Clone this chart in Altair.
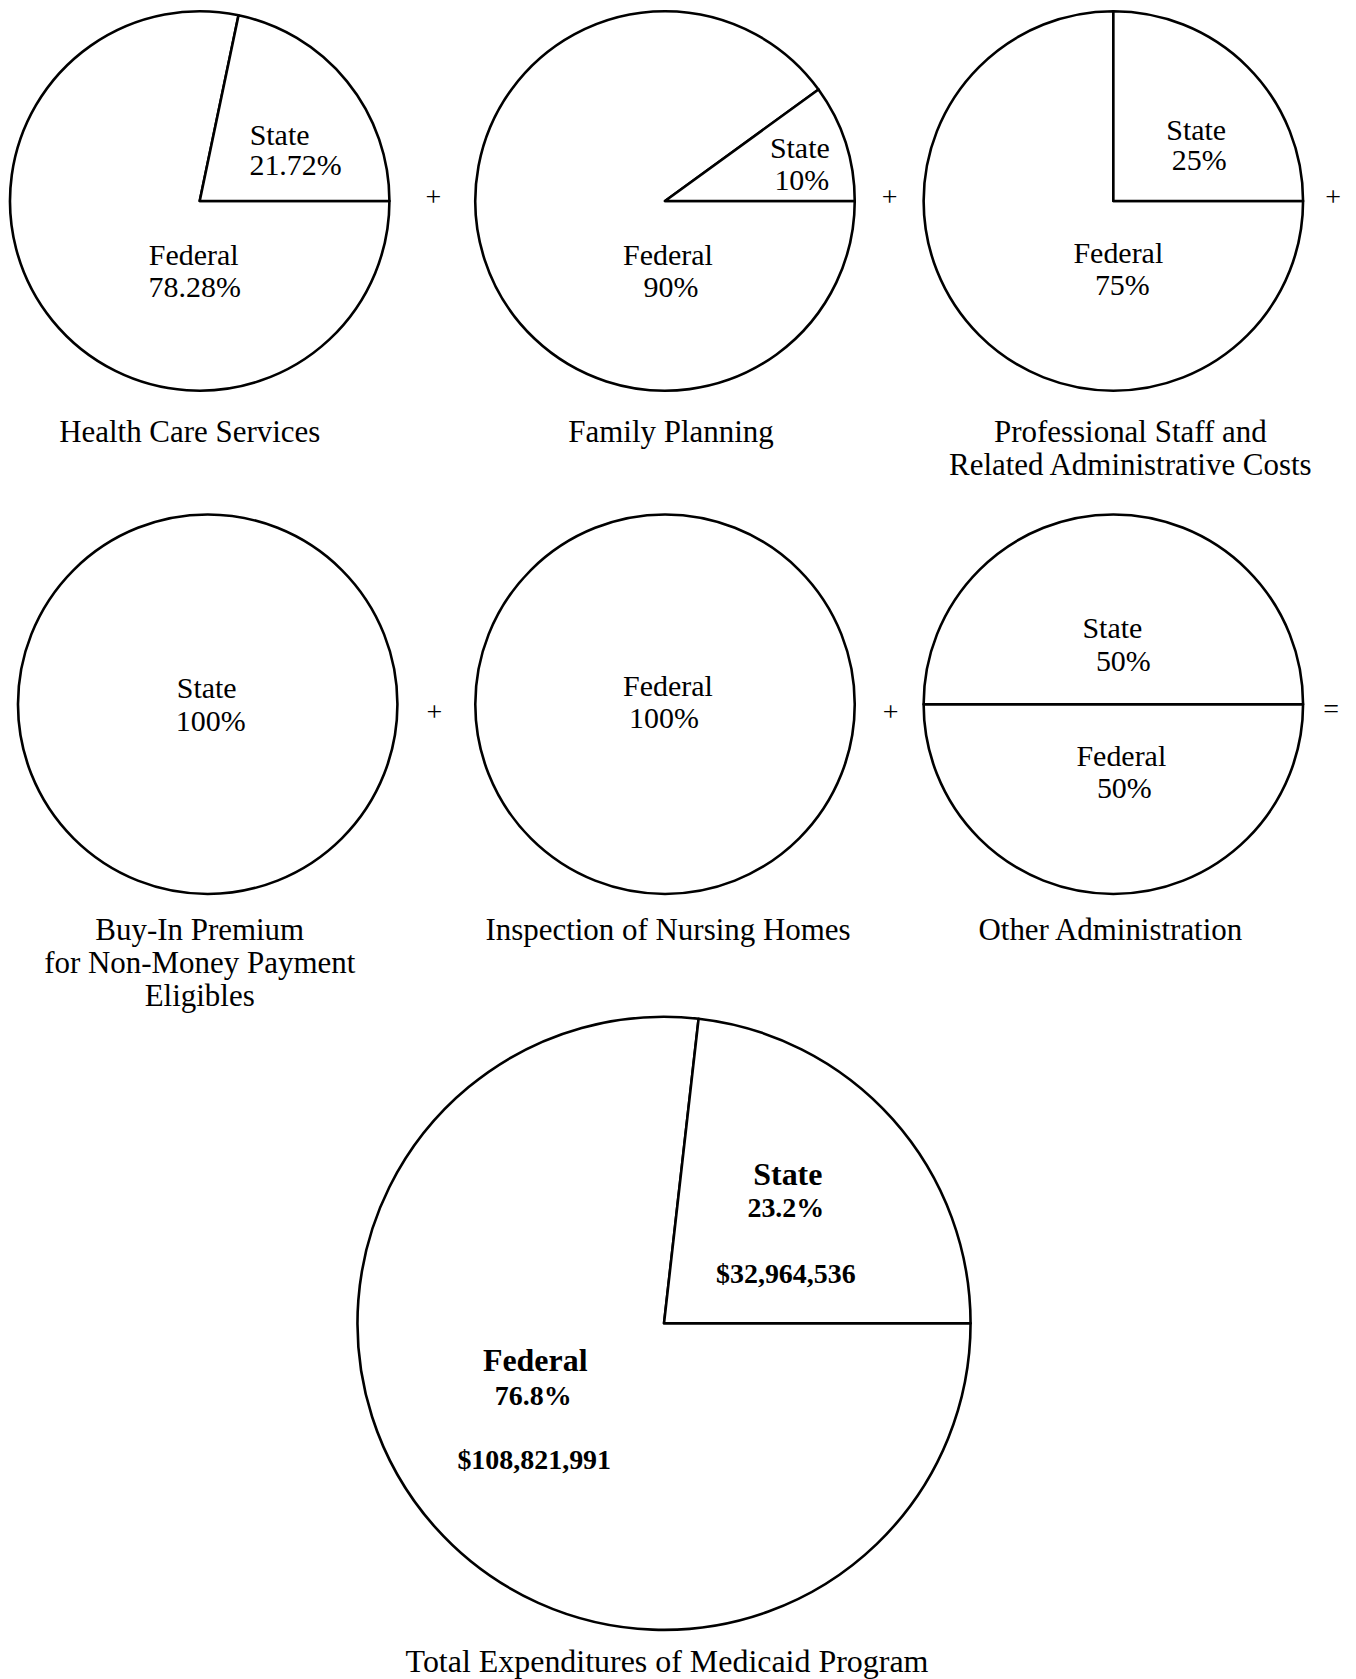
import math
import altair as alt
import pandas as pd

# ---------------- data ----------------
PIE_TITLES = [
    ["Health Care Services"],
    ["Family Planning"],
    ["Professional Staff and", "Related Administrative Costs"],
    ["Buy-In Premium", "for Non-Money Payment", "Eligibles"],
    ["Inspection of Nursing Homes"],
    ["Other Administration"],
    ["Total Expenditures of Medicaid Program"],
]
SOURCES = ["Federal", "State"]
FEDERAL_SHARE = [78.28, 90, 75, 0, 100, 50, 76.8]
STATE_SHARE = [21.72, 10, 25, 100, 0, 50, 23.2]
FEDERAL_LABEL = ["78.28%", "90%", "75%", "", "100%", "50%", "76.8%"]
STATE_LABEL = ["21.72%", "10%", "25%", "100%", "", "50%", "23.2%"]
FEDERAL_AMOUNT = ["", "", "", "", "", "", "$108,821,991"]
STATE_AMOUNT = ["", "", "", "", "", "", "$32,964,536"]
OPERATORS = ["+", "+", "+", "+", "+", "="]

# ---------------- layout (sizes / positions / styles) ----------------
R_SMALL = 190
R_BIG = 307
ROW_H = [380, 382, 600]
SPACING_1_2 = 31
SPACING_2_3 = 2
ROWS = [
    [("pie", 0, 380), ("op", 0, 88), ("pie", 1, 376), ("op", 1, 74), ("pie", 2, 374), ("op", 2, 48)],
    [("pie", 3, 396), ("op", 3, 58), ("pie", 4, 404), ("op", 4, 48), ("pie", 5, 398), ("op", 5, 36)],
    [("pie", 6, 1310)],
]
OP_DX = [0, 0, 9, 0, 0, 1]
OP_DY = [-3, -3, -3, 9, 9, 6]
TITLE_OFFSET = [26, 26, 26, 21, 21, 21, 16]
TITLE_DX = [-10, 6, 17, -8, 3, -3, 3]
TITLE_SIZE = [31, 31, 31, 31, 31, 31, 32]
# label line offsets from the pie centre: (dx, dy) for name, percentage, amount
LABEL_OFFSETS = [
    {"State": [(80, -65), (96, -35)], "Federal": [(-6, 55), (-5, 87)]},
    {"State": [(135, -52), (137, -20)], "Federal": [(3, 55), (6, 87)]},
    {"State": [(83, -70), (86, -40)], "Federal": [(5, 53), (9, 85)]},
    {"State": [(-1, -15), (3, 18)]},
    {"Federal": [(3, -17), (-1, 15)]},
    {"State": [(-1, -75), (10, -42)], "Federal": [(8, 53), (11, 85)]},
    {"State": [(124, -148), (122, -114), (122, -48)],
     "Federal": [(-129, 38), (-131, 74), (-130, 138)]},
]
FONT = "Liberation Serif"
INK = "#000000"


def pie_frame(i):
    shares = {"Federal": FEDERAL_SHARE[i], "State": STATE_SHARE[i]}
    labels = {"Federal": FEDERAL_LABEL[i], "State": STATE_LABEL[i]}
    amounts = {"Federal": FEDERAL_AMOUNT[i], "State": STATE_AMOUNT[i]}
    rows = []
    for k, s in enumerate(SOURCES):
        if shares[s] > 0:
            rows.append({"source": s, "share": shares[s], "label": labels[s],
                         "amount": amounts[s], "order": k})
    return pd.DataFrame(rows)


def pie_panel(i, width, height):
    df = pie_frame(i)
    big = i == 6
    base = alt.Chart(df)
    arc = base.mark_arc(
        radius=R_BIG if big else R_SMALL, fill="white", stroke=INK, strokeWidth=2.6,
        strokeJoin="round",
    ).encode(
        theta=alt.Theta("share:Q", stack=True,
                        scale=alt.Scale(domain=[0, 100],
                                        range=[math.pi / 2, math.pi / 2 + 2 * math.pi])),
        order=alt.Order("order:Q"),
    )
    layers = [arc]
    fields = ["source", "label", "amount"]
    for src, lines in LABEL_OFFSETS[i].items():
        for j, (dx, dy) in enumerate(lines):
            if big:
                size = 32 if j == 0 else 28
                weight = "bold"
            else:
                size = 30
                weight = "normal"
            layers.append(
                base.transform_filter(alt.datum.source == src)
                .mark_text(dx=dx, dy=dy, font=FONT, fontSize=size, fontWeight=weight,
                           align="center", baseline="middle", color=INK)
                .encode(text=alt.Text(f"{fields[j]}:N"))
            )
    return alt.layer(*layers).properties(
        width=width, height=height,
        title=alt.TitleParams(
            text=PIE_TITLES[i], orient="bottom", anchor="middle", frame="group",
            baseline="top", offset=TITLE_OFFSET[i], dx=TITLE_DX[i],
            font=FONT, fontSize=TITLE_SIZE[i], fontWeight="normal", color=INK, lineHeight=33,
        ),
    )


def op_panel(k, width, height):
    df = pd.DataFrame({"op": [OPERATORS[k]]})
    return alt.Chart(df).mark_text(
        font=FONT, fontSize=28, color=INK, dx=OP_DX[k], dy=OP_DY[k],
        baseline="middle", align="center"
    ).encode(text="op:N").properties(width=width, height=height)


rows = []
for r, row in enumerate(ROWS):
    panels = []
    for kind, idx, w in row:
        if kind == "pie":
            panels.append(pie_panel(idx, w, ROW_H[r]))
        else:
            panels.append(op_panel(idx, w, ROW_H[r]))
    if len(panels) == 1:
        rows.append(panels[0])
    else:
        rows.append(alt.hconcat(*panels, spacing=0, bounds="flush"))

upper = alt.vconcat(rows[0], rows[1], spacing=SPACING_1_2)
chart = alt.vconcat(upper, rows[2], spacing=SPACING_2_3).properties(
    padding=0, background="white"
).configure_view(strokeWidth=0)

chart.save("out.html", embed_options={"renderer": "svg", "actions": False})
